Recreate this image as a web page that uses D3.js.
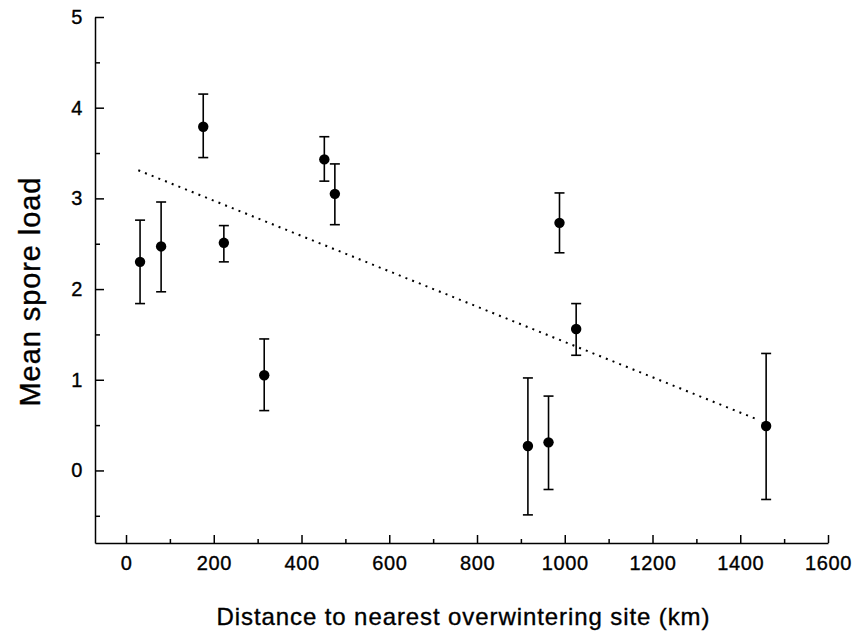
<!DOCTYPE html>
<html lang="en">
<head>
    <meta charset="UTF-8">
    <title>Mean spore load vs distance</title>
    <style>
        body { margin: 0; background: #fff; }
        svg { display: block; }
        text { font-family: "Liberation Sans", Arial, Helvetica, sans-serif; fill: #000; stroke: #000; stroke-width: 0.35px; }
        .axis path, .axis line { stroke: #000; stroke-width: 1.5; }
        .axis text { font-size: 20px; letter-spacing: 0.6px; }
    </style>
</head>
<body>
    <div id="chart"></div>

    <script src="https://d3js.org/d3.v7.min.js"></script>
    <script>
        // Data
        const distance = [32, 80, 176, 223, 315, 452, 476, 916, 963, 988, 1026, 1459];
        const meanLoad = [2.30, 2.47, 3.79, 2.51, 1.05, 3.43, 3.05, 0.27, 0.31, 2.73, 1.56, 0.49];
        const upperBar = [2.76, 2.96, 4.15, 2.70, 1.45, 3.68, 3.38, 1.02, 0.82, 3.06, 1.84, 1.29];
        const lowerBar = [1.84, 1.97, 3.45, 2.30, 0.66, 3.19, 2.71, -0.49, -0.21, 2.40, 1.27, -0.32];

        // Regression line end points
        const trendX = [28, 1435];
        const trendY = [3.31, 0.57];

        const xMajorTicks = [0, 200, 400, 600, 800, 1000, 1200, 1400, 1600];
        const xMinorTicks = [100, 300, 500, 700, 900, 1100, 1300, 1500];
        const yMajorTicks = [0, 1, 2, 3, 4, 5];
        const yMinorTicks = [-0.5, 0.5, 1.5, 2.5, 3.5, 4.5];

        const width = 856, height = 634;

        const svg = d3.select('#chart')
            .append('svg')
            .attr('width', width)
            .attr('height', height);

        const x = d3.scaleLinear().domain([-70.7, 1600]).range([95, 828]);
        const y = d3.scaleLinear().domain([-0.8, 5]).range([543, 17]);

        const points = distance.map((d, i) => ({
            x: d, y: meanLoad[i], hi: upperBar[i], lo: lowerBar[i]
        }));

        const fmt = d3.format('d');

        // Axes
        svg.append('g')
            .attr('class', 'axis')
            .attr('transform', `translate(0,${y.range()[0]})`)
            .call(d3.axisBottom(x).tickValues(xMajorTicks).tickFormat(fmt)
                .tickSize(-8).tickSizeOuter(0).tickPadding(13));

        svg.append('g')
            .attr('class', 'axis')
            .attr('transform', `translate(0,${y.range()[0]})`)
            .call(d3.axisBottom(x).tickValues(xMinorTicks).tickSize(-4).tickFormat(''))
            .call(g => g.select('.domain').remove());

        svg.append('g')
            .attr('class', 'axis')
            .attr('transform', `translate(${x.range()[0]},0)`)
            .call(d3.axisLeft(y).tickValues(yMajorTicks).tickFormat(fmt)
                .tickSize(-9).tickSizeOuter(0).tickPadding(12));

        svg.append('g')
            .attr('class', 'axis')
            .attr('transform', `translate(${x.range()[0]},0)`)
            .call(d3.axisLeft(y).tickValues(yMinorTicks).tickSize(-5).tickFormat(''))
            .call(g => g.select('.domain').remove());

        // Trend line (dotted)
        svg.append('line')
            .attr('x1', x(trendX[0]))
            .attr('y1', y(trendY[0]))
            .attr('x2', x(trendX[1]))
            .attr('y2', y(trendY[1]))
            .attr('stroke', '#000')
            .attr('stroke-width', 2)
            .attr('stroke-dasharray', '2,5.2');

        // Error bars
        const bars = svg.append('g')
            .attr('stroke', '#000')
            .attr('stroke-width', 1.6);

        bars.selectAll('.stem')
            .data(points)
            .enter()
            .append('line')
            .attr('x1', d => x(d.x))
            .attr('x2', d => x(d.x))
            .attr('y1', d => y(d.hi))
            .attr('y2', d => y(d.lo));

        ['hi', 'lo'].forEach(k => {
            bars.selectAll('.cap-' + k)
                .data(points)
                .enter()
                .append('line')
                .attr('x1', d => x(d.x) - 5)
                .attr('x2', d => x(d.x) + 5)
                .attr('y1', d => y(d[k]))
                .attr('y2', d => y(d[k]));
        });

        svg.selectAll('circle')
            .data(points)
            .enter()
            .append('circle')
            .attr('cx', d => x(d.x))
            .attr('cy', d => y(d.y))
            .attr('r', 5.2)
            .attr('fill', '#000');

        // Axis titles
        svg.append('text')
            .attr('x', 463)
            .attr('y', 625)
            .attr('text-anchor', 'middle')
            .attr('textLength', 493)
            .attr('lengthAdjust', 'spacing')
            .style('font-size', '24px')
            .text('Distance to nearest overwintering site (km)');

        svg.append('text')
            .attr('transform', 'translate(40,292) rotate(-90)')
            .attr('text-anchor', 'middle')
            .attr('textLength', 229)
            .attr('lengthAdjust', 'spacing')
            .style('font-size', '29px')
            .text('Mean spore load');
    </script>
</body>
</html>
